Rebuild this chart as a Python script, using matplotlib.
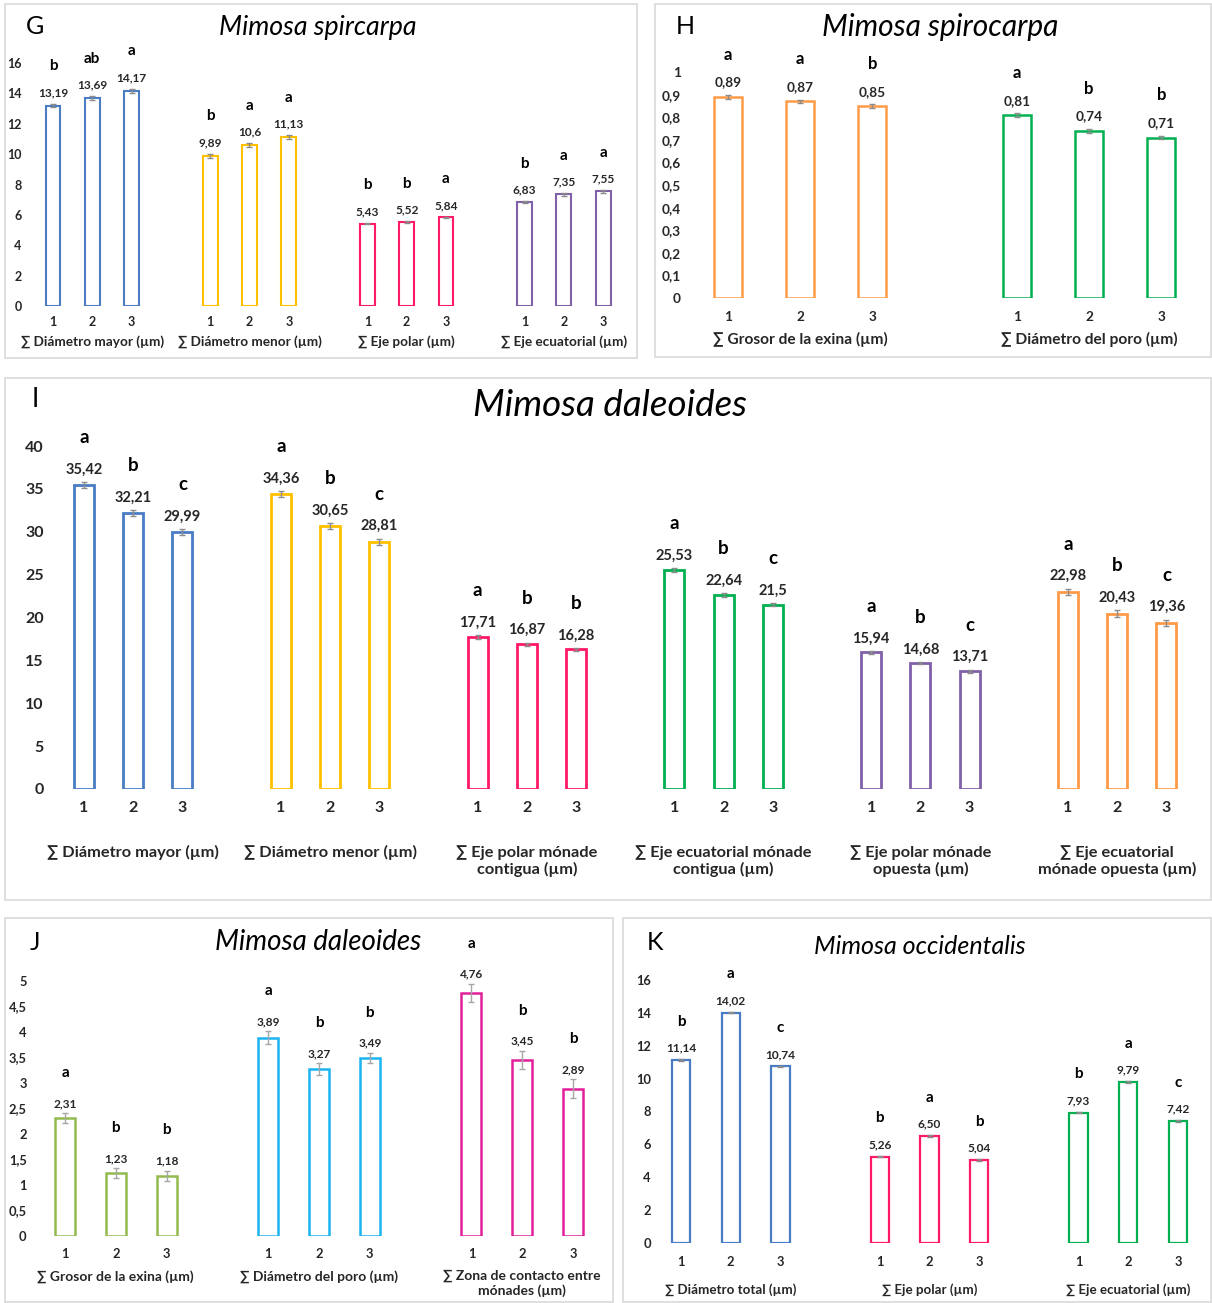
import matplotlib
matplotlib.use('Agg')
import matplotlib.pyplot as plt
import matplotlib.transforms as mtransforms
from matplotlib.patches import Rectangle
from matplotlib.ticker import FuncFormatter, MultipleLocator

plt.rcParams['font.family'] = ['Lato', 'DejaVu Sans']

W, H = 1212, 1303

# ================= datos =================
# G - Mimosa spircarpa
g_groups = ['∑ Diámetro mayor (µm)', '∑ Diámetro menor (µm)', '∑ Eje polar (µm)', '∑ Eje ecuatorial (µm)']
g_vals = [[13.19, 13.69, 14.17], [9.89, 10.6, 11.13], [5.43, 5.52, 5.84], [6.83, 7.35, 7.55]]
g_err = [[0.12, 0.12, 0.12], [0.12, 0.12, 0.12], [0.05, 0.05, 0.05], [0.08, 0.08, 0.08]]
g_letters = [['b', 'ab', 'a'], ['b', 'a', 'a'], ['b', 'b', 'a'], ['b', 'a', 'a']]

# H - Mimosa spirocarpa
h_groups = ['∑ Grosor de la exina (µm)', '∑ Diámetro del poro (µm)']
h_vals = [[0.89, 0.87, 0.85], [0.81, 0.74, 0.71]]
h_err = [[0.008, 0.008, 0.008], [0.008, 0.008, 0.008]]
h_letters = [['a', 'a', 'b'], ['a', 'b', 'b']]

# I - Mimosa daleoides
i_groups = ['∑ Diámetro mayor (µm)', '∑ Diámetro menor (µm)',
            '∑ Eje polar mónade\ncontigua (µm)', '∑ Eje ecuatorial mónade\ncontigua (µm)',
            '∑ Eje polar mónade\nopuesta (µm)', '∑ Eje ecuatorial\nmónade opuesta (µm)']
i_vals = [[35.42, 32.21, 29.99], [34.36, 30.65, 28.81], [17.71, 16.87, 16.28],
          [25.53, 22.64, 21.5], [15.94, 14.68, 13.71], [22.98, 20.43, 19.36]]
i_err = [[0.35, 0.35, 0.35], [0.35, 0.35, 0.4], [0.2, 0.2, 0.15],
         [0.2, 0.2, 0.2], [0.15, 0.15, 0.2], [0.4, 0.4, 0.4]]
i_letters = [['a', 'b', 'c'], ['a', 'b', 'c'], ['a', 'b', 'b'],
             ['a', 'b', 'c'], ['a', 'b', 'c'], ['a', 'b', 'c']]

# J - Mimosa daleoides
j_groups = ['∑ Grosor de la exina (µm)', '∑ Diámetro del poro (µm)', '∑ Zona de contacto entre\nmónades (µm)']
j_vals = [[2.31, 1.23, 1.18], [3.89, 3.27, 3.49], [4.76, 3.45, 2.89]]
j_err = [[0.1, 0.1, 0.1], [0.12, 0.12, 0.1], [0.18, 0.18, 0.18]]
j_letters = [['a', 'b', 'b'], ['a', 'b', 'b'], ['a', 'b', 'b']]

# K - Mimosa occidentalis
k_groups = ['∑ Diámetro total (µm)', '∑ Eje polar (µm)', '∑ Eje ecuatorial (µm)']
k_vals = [[11.14, 14.02, 10.74], [5.26, 6.50, 5.04], [7.93, 9.79, 7.42]]
k_err = [[0.05, 0.05, 0.05], [0.05, 0.05, 0.05], [0.05, 0.05, 0.05]]
k_letters = [['b', 'a', 'c'], ['b', 'a', 'b'], ['b', 'a', 'c']]

# ================= colores =================
BLUE, YELLOW, PINK, PURPLE = '#4a7cc4', '#ffc000', '#ff1a66', '#8060a8'
GREEN, ORANGE, OLIVE, CYAN, MAGENTA = '#00b050', '#ff9a47', '#92bb4e', '#1ab4f0', '#e0209a'


def comma(v, pos=None):
    return ('%g' % round(v, 2)).replace('.', ',')


fig = plt.figure(figsize=(W / 100, H / 100), dpi=100)


def box(x0, y0, x1, y1):
    fig.add_artist(Rectangle((x0 / W, 1 - y1 / H), (x1 - x0) / W, (y1 - y0) / H,
                             transform=fig.transFigure, fill=False,
                             edgecolor='#d9d9d9', linewidth=1.2))


def fig_text(x, y, s, fs, **kw):
    fig.text(x / W, 1 - y / H, s, fontsize=fs, ha='center', va='center', **kw)


def draw_panel(ax_px, first, unit, ymax, step, groups, vals, errs, letters, colors,
               fs, val_off, let_off, grp_y, width=0.4, lw=1.7, fmt=None,
               ecolor='#8c8c8c', cap=2):
    left, right, y0, ytop = ax_px
    ax = fig.add_axes([left / W, 1 - y0 / H, (right - left) / W, (y0 - ytop) / H])
    ax.set_xlim((left - first) / unit, (right - first) / unit)
    ax.set_ylim(0, ymax)
    tick_fs, val_fs, let_fs, grp_fs, xpad, ypad = fs
    xs_all = []
    for g, (vv, ee, ll, col) in enumerate(zip(vals, errs, letters, colors)):
        xs = [g * 4 + j for j in range(3)]
        xs_all += xs
        ax.bar(xs, vv, width=width, facecolor='white', edgecolor=col, linewidth=lw, zorder=2)
        ax.errorbar(xs, vv, yerr=ee, fmt='none', ecolor=ecolor, elinewidth=1,
                    capsize=cap, capthick=1, zorder=3)
        for x, v, e, l in zip(xs, vv, ee, ll):
            txt = fmt % v if fmt else comma(v)
            ax.annotate(txt.replace('.', ','), (x, v + e), xytext=(0, val_off),
                        textcoords='offset points', ha='center', va='center',
                        fontsize=val_fs, fontweight='bold', color='#262626',
                        annotation_clip=False)
            ax.annotate(l, (x, v + e), xytext=(0, val_off + let_off),
                        textcoords='offset points', ha='center', va='center',
                        fontsize=let_fs, fontweight='bold', color='black',
                        annotation_clip=False)
        trans = mtransforms.blended_transform_factory(ax.transData, fig.transFigure)
        ax.text(g * 4 + 1, 1 - grp_y / H, groups[g], transform=trans, ha='center',
                va='top', fontsize=grp_fs, fontweight='bold', color='#262626',
                linespacing=1.2)
    ax.set_xticks(xs_all)
    ax.set_xticklabels(['1', '2', '3'] * len(vals))
    ax.yaxis.set_major_locator(MultipleLocator(step))
    ax.yaxis.set_major_formatter(FuncFormatter(comma))
    ax.tick_params(axis='x', length=0, pad=xpad, labelsize=tick_fs)
    ax.tick_params(axis='y', length=0, pad=ypad, labelsize=tick_fs)
    for lab in ax.get_xticklabels() + ax.get_yticklabels():
        lab.set_fontweight('bold')
        lab.set_color('#262626')
    for s in ax.spines.values():
        s.set_visible(False)
    return ax


# ================= marcos =================
box(5, 4, 637, 358)
box(655, 4, 1211, 357)
box(5, 378, 1211, 900)
box(5, 918, 613, 1302)
box(623, 918, 1211, 1302)

# ----- G -----
draw_panel((30, 628, 306, 63), 53, 39.3, 16, 2, g_groups, g_vals, g_err, g_letters,
           [BLUE, YELLOW, PINK, PURPLE], (9, 8.6, 11, 9.8, 7.5, 6), 8, 19, 335,
           width=0.38, lw=1.5)
fig_text(318, 27, 'Mimosa spircarpa', 19.3, style='italic')
fig_text(35, 27, 'G', 18)

# ----- H -----
draw_panel((692, 1200, 298, 72), 728, 72.2, 1, 0.1, h_groups, h_vals, h_err, h_letters,
           [ORANGE, GREEN], (9.8, 9.8, 12, 11.2, 9.5, 8), 9, 20, 332,
           width=0.39, lw=1.8)
fig_text(940, 27, 'Mimosa spirocarpa', 21.5, style='italic')
fig_text(685, 27, 'H', 18)

# ----- I -----
draw_panel((55, 1195, 789, 446), 84, 49.2, 40, 5, i_groups, i_vals, i_err, i_letters,
           [BLUE, YELLOW, PINK, GREEN, PURPLE, ORANGE], (11.5, 10.5, 13.5, 11.8, 8.5, 8),
           9, 23, 845, width=0.41, lw=2)
fig_text(610, 405, 'Mimosa daleoides', 26.5, style='italic')
fig_text(35, 400, 'I', 19)

# ----- J -----
draw_panel((35, 600, 1236, 981), 65, 50.8, 5, 0.5, j_groups, j_vals, j_err, j_letters,
           [OLIVE, CYAN, MAGENTA], (9.3, 8.6, 11, 10, 8.5, 6), 7, 22, 1270,
           width=0.39, lw=1.8, ecolor='#a6a6a6', cap=2.5)
fig_text(318, 942, 'Mimosa daleoides', 20, style='italic')
fig_text(35, 942, 'J', 18)

# ----- K -----
draw_panel((662, 1200, 1243, 980), 681, 49.7, 16, 2, k_groups, k_vals, k_err, k_letters,
           [BLUE, PINK, GREEN], (9.3, 8.6, 11, 9.6, 9.5, 8), 8, 19, 1283,
           width=0.37, lw=1.6, fmt='%.2f')
fig_text(920, 946, 'Mimosa occidentalis', 18, style='italic')
fig_text(655, 942, 'K', 18)

fig.savefig('out.png', dpi=100)
